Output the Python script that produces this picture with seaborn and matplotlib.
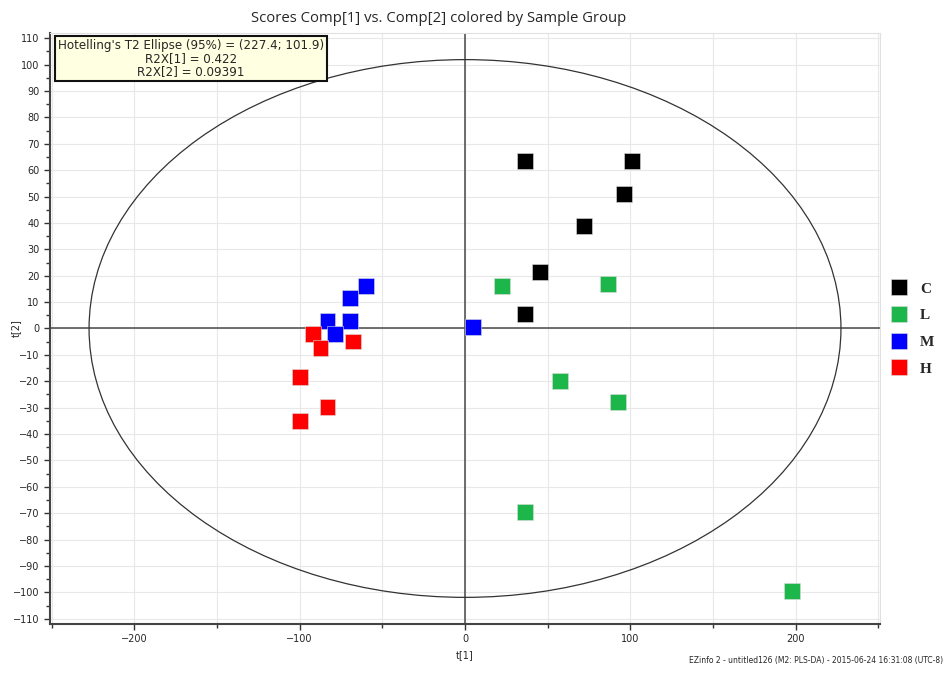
import numpy as np
import pandas as pd
import matplotlib
matplotlib.use("Agg")
import matplotlib.pyplot as plt
from matplotlib.patches import Ellipse
import seaborn as sns

# Data
groups = ["C", "L", "M", "H"]
c_t1 = [36.1, 101.2, 96.4, 71.8, 45.2, 36.1]
c_t2 = [63.6, 63.6, 50.9, 38.9, 21.4, 5.5]
l_t1 = [22.4, 86.3, 57.3, 92.3, 36.1, 197.8]
l_t2 = [16.2, 16.9, -19.8, -27.8, -69.7, -99.5]
m_t1 = [-60.1, -69.5, -69.5, -83.2, -78.4, 4.7]
m_t2 = [16.1, 11.6, 2.8, 2.8, -2.2, 0.6]
h_t1 = [-92.1, -87.4, -67.7, -99.8, -83.2, -99.8]
h_t2 = [-2.2, -7.5, -4.9, -18.5, -29.9, -35.2]
ellipse_axes = [227.4, 101.9]
r2x = ["0.422", "0.09391"]
y_ticks = list(range(-110, 111, 10))
x_ticks = [-200, -100, 0, 100, 200]

colors = {"C": "#000000", "L": "#1DB64A", "M": "#0000FF", "H": "#FF0000"}

df = pd.concat([
    pd.DataFrame({"t1": c_t1, "t2": c_t2, "group": "C"}),
    pd.DataFrame({"t1": l_t1, "t2": l_t2, "group": "L"}),
    pd.DataFrame({"t1": m_t1, "t2": m_t2, "group": "M"}),
    pd.DataFrame({"t1": h_t1, "t2": h_t2, "group": "H"}),
], ignore_index=True)

sns.set_style("white")
plt.rcParams['font.family'] = ['DejaVu Sans']

fig = plt.figure(figsize=(9.46, 6.73), dpi=100)
ax = fig.add_axes([0.0529, 0.0728, 0.8773, 0.8782])

# grid
ax.set_xlim(-251, 251)
ax.set_ylim(-112, 112)
for gx in range(-250, 251, 50):
    ax.axvline(gx, color="#E8E8E8", lw=0.8, zorder=0)
for gy in y_ticks:
    ax.axhline(gy, color="#E8E8E8", lw=0.8, zorder=0)
ax.axhline(0, color="#555555", lw=1.2, zorder=1)
ax.axvline(0, color="#555555", lw=1.2, zorder=1)

ell = Ellipse((0, 0), 2 * ellipse_axes[0], 2 * ellipse_axes[1], fill=False,
              edgecolor="#333333", lw=0.9, zorder=2)
ax.add_patch(ell)

sns.scatterplot(data=df, x="t1", y="t2", hue="group", hue_order=groups,
                palette=colors, marker="s", s=130, edgecolor="#dddddd",
                linewidth=0.4, ax=ax, zorder=3, legend=True)

handles, labels = ax.get_legend_handles_labels()
ax.legend(handles, labels, loc="upper left",
          bbox_to_anchor=(0.934, 1 - 282 / 673), bbox_transform=fig.transFigure,
          frameon=False, prop={"family": "Liberation Serif", "weight": "bold", "size": 11},
          markerscale=1.0, handletextpad=0.4, labelspacing=0.85, borderpad=0,
          borderaxespad=0)

ax.set_xticks(x_ticks)
ax.set_xticks(list(range(-250, 251, 50)), minor=True)
ax.set_yticks(y_ticks)
ax.set_yticks(list(range(-110, 111, 5)), minor=True)
ax.tick_params(axis="both", which="major", labelsize=7, length=4, width=1,
               direction="out", color="#333333", left=True, bottom=True)
ax.tick_params(axis="both", which="minor", length=3, width=1, color="#333333",
               left=True, bottom=True)
ax.set_xlabel("t[1]", fontsize=7)
ax.set_ylabel("")
fig.text(16 / 946, 1 - 328 / 673, "t[2]", rotation=90, ha="center", va="center",
         fontsize=7)

for side in ["left", "bottom"]:
    ax.spines[side].set_color("#444444")
    ax.spines[side].set_linewidth(1.5)
for side in ["top", "right"]:
    ax.spines[side].set_color("#E0E0E0")
    ax.spines[side].set_linewidth(0.8)

fig.text(0.464, 0.972, "Scores Comp[1] vs. Comp[2] colored by Sample Group",
         ha="center", va="center", fontsize=10.7, family="Open Sans")

box_text = ("Hotelling's T2 Ellipse (95%) = ({:.1f}; {:.1f})\nR2X[1] = {}\nR2X[2] = {}"
            .format(ellipse_axes[0], ellipse_axes[1], r2x[0], r2x[1]))
ax.text(0.0095, 0.99, box_text, transform=ax.transAxes, ha="left", va="top",
        fontsize=8.6, multialignment="center", linespacing=1.0,
        bbox=dict(boxstyle="square,pad=0.25", facecolor="#FFFFE1",
                  edgecolor="#111111", linewidth=1.5), zorder=5)

fig.text(0.997, 0.012, "EZinfo 2 - untitled126 (M2: PLS-DA) - 2015-06-24 16:31:08 (UTC-8)",
         ha="right", va="bottom", fontsize=5.5)

fig.savefig("out.png", dpi=100)
